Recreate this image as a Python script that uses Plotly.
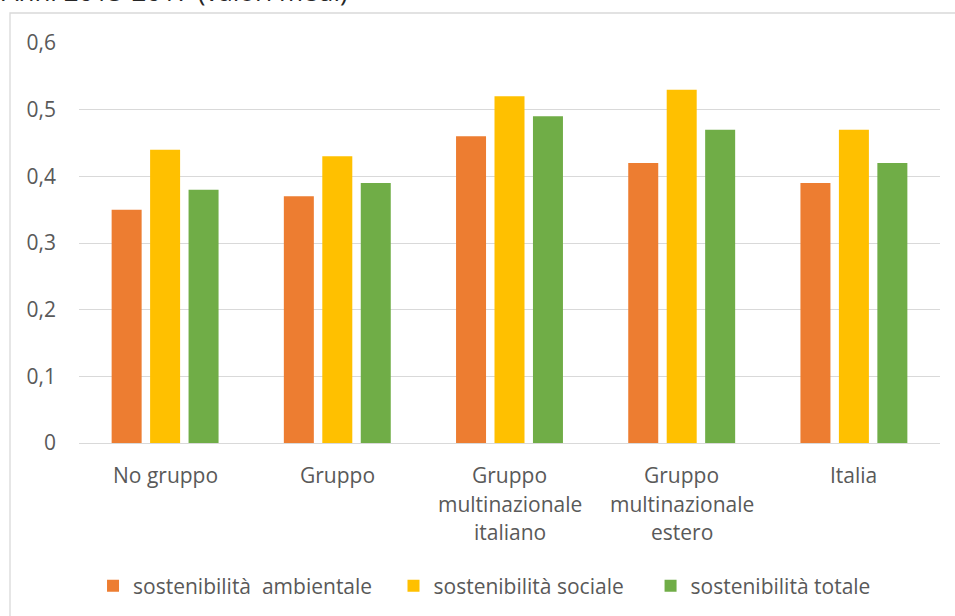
import plotly.graph_objects as go

# Categories and mean sustainability indices, 2015-2017
categories = [
    "No gruppo",
    "Gruppo",
    "Gruppo\nmultinazionale\nitaliano",
    "Gruppo\nmultinazionale\nestero",
    "Italia",
]
ambientale = [0.35, 0.37, 0.46, 0.42, 0.39]
sociale = [0.44, 0.43, 0.52, 0.53, 0.47]
totale = [0.38, 0.39, 0.49, 0.47, 0.42]

NBSP = "\u00a0"
series_names = [
    "sostenibilità" + NBSP * 2 + "ambientale" + NBSP * 3,
    "sostenibilità sociale" + NBSP * 4,
    "sostenibilità totale",
]
series_values = [ambientale, sociale, totale]
series_colors = ["#ED7D31", "#FFC000", "#70AD47"]

y_ticks = [0, 0.1, 0.2, 0.3, 0.4, 0.5, 0.6]
title_text = "Anni 2015-2017 (valori medi)"

FONT = "Open Sans"
TEXT_COLOR = "#595959"
FS = 21

# one category slot per bar group; labels are drawn separately below the axis
x_keys = [c.replace("\n", " ") for c in categories]

fig = go.Figure()
for name, vals, col in zip(series_names, series_values, series_colors):
    fig.add_trace(go.Bar(
        x=x_keys, y=vals, name=name,
        marker=dict(color=col, line=dict(width=0)),
    ))

# multi-line category labels with wider line spacing
annotations = []
for key, label in zip(x_keys, categories):
    for i, line in enumerate(label.split("\n")):
        annotations.append(dict(
            x=key, y=0, xref="x", yref="y", text=line, showarrow=False,
            xanchor="center", yanchor="middle", yshift=-(32 + 28.5 * i),
            font=dict(family=FONT, size=FS, color=TEXT_COLOR),
        ))

# heading (partly above the visible area)
annotations.append(dict(
    x=-79 / 861, y=(43 - 11) / 400 + 1, xref="paper", yref="paper",
    xanchor="left", yanchor="bottom", text=title_text, showarrow=False,
    font=dict(family=FONT, size=26, color="#262626"),
))

fig.update_layout(
    width=955, height=616,
    margin=dict(l=79, r=15, t=43, b=173, autoexpand=False),
    paper_bgcolor="white", plot_bgcolor="white",
    separators=", ",
    barmode="group", bargap=0.33, bargroupgap=0.22,
    font=dict(family=FONT, size=FS, color=TEXT_COLOR),
    showlegend=True,
    legend=dict(
        orientation="h", x=0.471, xanchor="center", y=-0.358, yanchor="middle",
        font=dict(family=FONT, size=FS, color=TEXT_COLOR),
        itemclick=False, itemdoubleclick=False,
    ),
    annotations=annotations,
    shapes=[dict(
        type="rect", xref="paper", yref="paper",
        x0=(10 - 79) / 861, x1=(960 - 79) / 861,
        y0=(443 - 630) / 400, y1=(443 - 13) / 400,
        line=dict(color="#D9D9D9", width=1.3), fillcolor="rgba(0,0,0,0)",
        layer="below",
    )],
)
fig.update_xaxes(showticklabels=False, showline=True, linecolor="#D9D9D9",
                 linewidth=1, ticks="", showgrid=False)
fig.update_yaxes(range=[0, 0.6], tickvals=y_ticks, showgrid=True,
                 gridcolor="#D9D9D9", gridwidth=1, zeroline=False,
                 showline=False, ticks="", ticklabelstandoff=22,
                 tickfont=dict(family=FONT, size=FS, color=TEXT_COLOR))

fig.write_html("out.html")
